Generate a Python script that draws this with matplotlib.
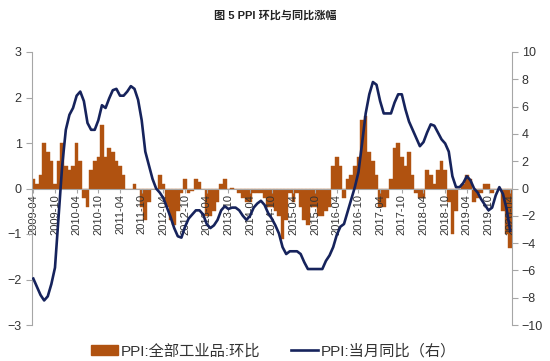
import pandas as pd
import matplotlib
matplotlib.use("Agg")
import matplotlib.pyplot as plt
from matplotlib.patches import Patch
from matplotlib.lines import Line2D

plt.rcParams['font.family'] = ['Liberation Sans', 'Noto Sans CJK SC', 'DejaVu Sans']

# --- data: monthly, 2009-04 .. 2020-04 ---
months = [p.strftime("%Y-%m") for p in pd.period_range("2009-04", "2020-04", freq="M")]

# PPI 环比 (left axis, %)
mom = [
    0.2, 0.1, 0.3, 1.0, 0.8, 0.6, 0.1, 0.6, 1.0,                        # 2009 Apr-Dec
    0.5, 0.4, 0.5, 1.0, 0.6, -0.2, -0.4, 0.4, 0.6, 0.7, 1.4, 0.7,        # 2010
    0.9, 0.8, 0.6, 0.5, 0.3, 0.0, 0.0, 0.1, 0.0, -0.4, -0.7, -0.3,       # 2011
    0.0, 0.0, 0.3, 0.1, -0.4, -0.7, -0.8, -0.5, -0.1, 0.2, -0.1, -0.05,  # 2012
    0.2, 0.15, 0.0, -0.6, -0.6, -0.5, -0.3, 0.1, 0.2, 0.0, 0.02, 0.0,    # 2013
    -0.1, -0.2, -0.3, -0.3, -0.1, -0.1, -0.1, -0.2, -0.4, -0.4, -0.5, -0.6,  # 2014
    -1.1, -0.7, -0.1, -0.3, -0.1, -0.4, -0.7, -0.8, -0.4, -0.4, -0.6, -0.6,  # 2015
    -0.5, -0.4, 0.5, 0.7, 0.5, -0.2, 0.2, 0.3, 0.5, 0.7, 1.5, 1.6,       # 2016
    0.8, 0.6, 0.3, -0.4, -0.4, -0.2, 0.2, 0.9, 1.0, 0.7, 0.5, 0.8,       # 2017
    0.3, -0.1, -0.2, -0.2, 0.4, 0.3, 0.1, 0.4, 0.6, 0.4, -0.3, -1.0,     # 2018
    -0.5, 0.0, 0.1, 0.3, 0.2, -0.3, -0.2, -0.1, 0.1, 0.1, -0.1, 0.0,     # 2019
    0.0, -0.5, -1.0, -1.3,                                               # 2020 Jan-Apr
]

# PPI 当月同比 (right axis, %)
yoy = [
    -6.6, -7.2, -7.8, -8.2, -7.9, -7.0, -5.8, -2.1, 1.7,
    4.3, 5.4, 5.9, 6.8, 7.1, 6.4, 4.8, 4.3, 4.3, 5.0, 6.1, 5.9,
    6.6, 7.2, 7.3, 6.8, 6.8, 7.1, 7.5, 7.3, 6.5, 5.0, 2.7, 1.7,
    0.7, 0.0, -0.3, -0.7, -1.4, -2.1, -2.9, -3.5, -3.6, -2.8, -2.2, -1.9,
    -1.6, -1.6, -1.9, -2.6, -2.9, -2.7, -2.3, -1.6, -1.3, -1.5, -1.4, -1.4,
    -1.6, -2.0, -2.3, -2.0, -1.4, -1.1, -0.9, -1.2, -1.8, -2.2, -2.7, -3.3,
    -4.3, -4.8, -4.6, -4.6, -4.6, -4.8, -5.4, -5.9, -5.9, -5.9, -5.9, -5.9,
    -5.3, -4.9, -4.3, -3.4, -2.8, -2.6, -1.7, -0.8, 0.1, 1.2, 3.3, 5.5,
    6.9, 7.8, 7.6, 6.4, 5.5, 5.5, 5.5, 6.3, 6.9, 6.9, 5.8, 4.9,
    4.3, 3.7, 3.1, 3.4, 4.1, 4.7, 4.6, 4.1, 3.6, 3.3, 2.7, 0.9,
    0.1, 0.1, 0.4, 0.9, 0.6, 0.0, -0.3, -0.8, -1.2, -1.6, -1.4, -0.5,
    0.1, -0.4, -1.5, -3.1,
]

x = list(range(len(months)))
tick_pos = x[::6]
tick_labels = months[::6]

bar_color = "#B05210"
line_color = "#16235C"
axis_gray = "#A6A6A6"
text_color = "#333333"

fig = plt.figure(figsize=(5.5, 3.61), dpi=100)
ax = fig.add_axes([31.5 / 550, 1 - 325 / 361, (512 - 31.5) / 550, (325 - 52) / 361])

# --- bars: month-on-month ---
ax.bar(x, mom, width=1.0, color=bar_color, edgecolor=bar_color, linewidth=0.3)
ax.set_ylim(-3, 3)
ax.set_yticks([-3, -2, -1, 0, 1, 2, 3])
ax.set_xlim(-0.5, len(months) - 0.5)
for s in ['top', 'right']:
    ax.spines[s].set_visible(False)
ax.spines['left'].set_color(axis_gray)
ax.spines['bottom'].set_color(axis_gray)
ax.spines['bottom'].set_position(('data', 0))

# --- line: year-on-year (right axis) ---
ax2 = ax.twinx()
ax2.plot(x, yoy, color=line_color, lw=1.9, solid_joinstyle='round')
ax2.set_ylim(-10, 10)
ax2.set_yticks(range(-10, 11, 2))
ax2.tick_params(axis='y', direction='out', length=4, color=axis_gray, labelsize=9,
                labelcolor=text_color, pad=3)
for s in ['top', 'left', 'bottom']:
    ax2.spines[s].set_visible(False)
ax2.spines['right'].set_color(axis_gray)

# x ticks set after twinx so rotation sticks
ax.set_xticks(tick_pos)
ax.set_xticklabels(tick_labels)
ax.tick_params(axis='x', direction='out', length=3, color=axis_gray, pad=1,
               labelrotation=90, labelsize=8, labelcolor=text_color)
ax.tick_params(axis='y', direction='out', length=4, color=axis_gray, labelsize=9,
               labelcolor=text_color, pad=3)

fig.text(0.5, 1 - 15 / 361, "图 5 PPI 环比与同比涨幅", ha='center', va='center',
         fontsize=8, fontweight='bold', color='#222222')

handles = [Patch(facecolor=bar_color, edgecolor=bar_color),
           Line2D([0], [0], color=line_color, lw=1.9)]
fig.legend(handles, ["PPI:全部工业品:环比", "PPI:当月同比（右）"],
           loc='center', bbox_to_anchor=(0.497, 1 - 351 / 361), ncol=2, frameon=False,
           fontsize=11, handlelength=1.8, handleheight=0.7, handletextpad=0.15,
           columnspacing=2.0, labelcolor=text_color)

fig.savefig("out.png", dpi=100)
plt.close(fig)
